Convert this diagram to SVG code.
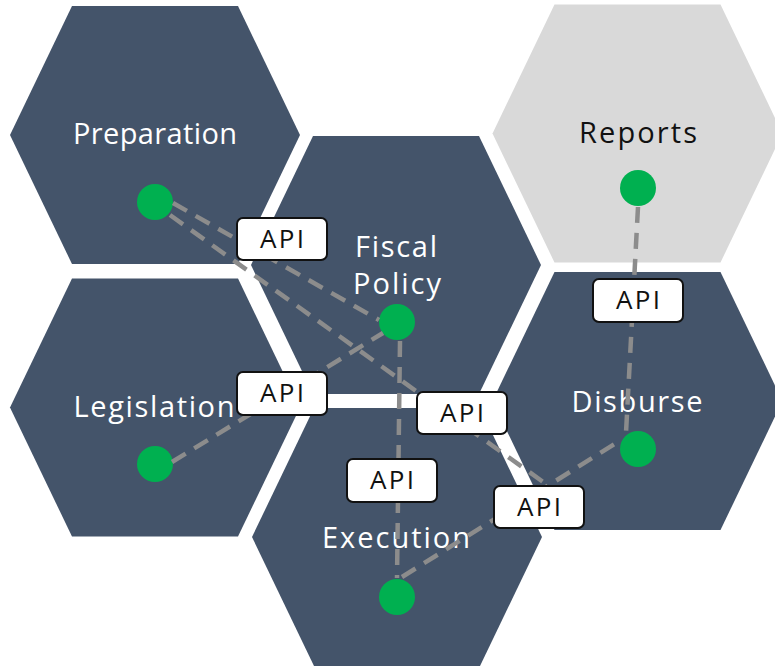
<svg xmlns="http://www.w3.org/2000/svg" xmlns:xlink="http://www.w3.org/1999/xlink" width="775" height="667" viewBox="0 0 775 667">
  <style>
    .hex { fill: #44546A; }
    .hex.light { fill: #D9D9D9; }
    .dot { fill: #00B050; }
    .title { font-family: "Open Sans", "Liberation Sans", sans-serif; font-size: 29px; fill: #FFFFFF; text-anchor: middle; }
    .title.dark { fill: #111111; }
    .link { stroke: #8C8C8C; stroke-width: 4.5; stroke-dasharray: 16 10; fill: none; }
    .api rect { fill: #FFFFFF; stroke: #111111; stroke-width: 2; }
    .api text { font-family: "Open Sans", "Liberation Sans", sans-serif; font-size: 26px; fill: #111111; text-anchor: middle; }
  </style>
  <defs>
    <path id="hexShape" d="M-145,0 L-83,-129 L83,-129 L145,0 L83,129 L-83,129 Z"/>
  </defs>
  <rect width="775" height="667" fill="#FFFFFF"/>

  <g id="node-preparation">
    <use href="#hexShape" xlink:href="#hexShape" class="hex" x="155" y="135"/>
    <text class="title" x="155" y="144" textLength="164">Preparation</text>
    <circle class="dot" cx="155" cy="202" r="18"/>
  </g>
  <g id="node-fiscal-policy">
    <use href="#hexShape" xlink:href="#hexShape" class="hex" x="396" y="265"/>
    <text class="title" x="396" y="257" textLength="82">Fiscal</text>
    <text class="title" x="397" y="294" textLength="88">Policy</text>
    <circle class="dot" cx="397" cy="322" r="18"/>
  </g>
  <g id="node-reports">
    <use href="#hexShape" xlink:href="#hexShape" class="hex light" x="637.5" y="133.5"/>
    <text class="title dark" x="638" y="143" textLength="118">Reports</text>
    <circle class="dot" cx="638" cy="188" r="18"/>
  </g>
  <g id="node-legislation">
    <use href="#hexShape" xlink:href="#hexShape" class="hex" x="155" y="407.5"/>
    <text class="title" x="154" y="417" textLength="161">Legislation</text>
    <circle class="dot" cx="155" cy="464" r="18"/>
  </g>
  <g id="node-execution">
    <use href="#hexShape" xlink:href="#hexShape" class="hex" x="397" y="537"/>
    <text class="title" x="396" y="548" textLength="148">Execution</text>
    <circle class="dot" cx="397" cy="597" r="18"/>
  </g>
  <g id="node-disburse">
    <use href="#hexShape" xlink:href="#hexShape" class="hex" x="637.5" y="401"/>
    <text class="title" x="637" y="412" textLength="131">Disburse</text>
    <circle class="dot" cx="638" cy="449" r="18"/>
  </g>

  <g id="connectors">
    <line class="link" x1="173" y1="203" x2="379" y2="320"/>
    <line class="link" x1="170" y1="215" x2="546" y2="484"/>
    <line class="link" x1="172" y1="462" x2="383" y2="333"/>
    <line class="link" x1="400" y1="341" x2="397" y2="578"/>
    <line class="link" x1="402" y1="577" x2="621" y2="440"/>
    <line class="link" x1="638" y1="207" x2="626" y2="433"/>
    <g class="api"><rect x="237" y="218" width="90" height="42" rx="6"/><text x="282" y="248" textLength="44">API</text></g>
    <g class="api"><rect x="237" y="372" width="90" height="43" rx="6"/><text x="282" y="402" textLength="44">API</text></g>
    <g class="api"><rect x="417" y="392" width="90" height="42" rx="6"/><text x="462" y="422" textLength="44">API</text></g>
    <g class="api"><rect x="347" y="459" width="90" height="43" rx="6"/><text x="392" y="489" textLength="44">API</text></g>
    <g class="api"><rect x="494" y="486" width="90" height="42" rx="6"/><text x="539" y="516" textLength="44">API</text></g>
    <g class="api"><rect x="593" y="279" width="90" height="43" rx="6"/><text x="638" y="309" textLength="44">API</text></g>
  </g>
</svg>
